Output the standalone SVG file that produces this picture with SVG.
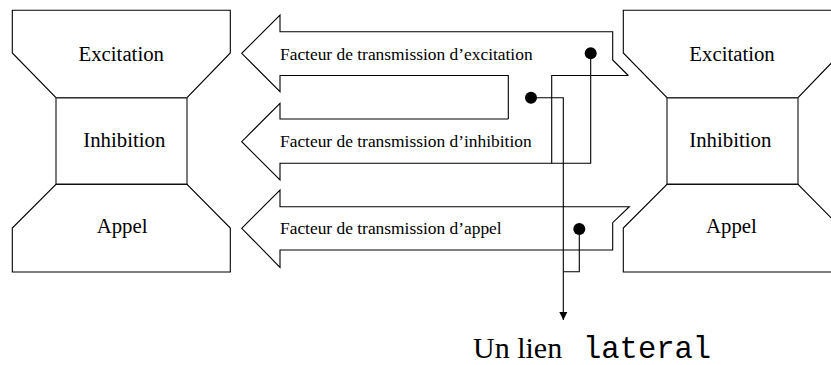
<svg xmlns="http://www.w3.org/2000/svg" width="831" height="365" viewBox="0 0 831 365">
<style>
.o{fill:none;stroke:#000;stroke-width:1.1;stroke-linejoin:miter}
.b{fill:none;stroke:#333;stroke-width:1.3}
.t{font-family:"Liberation Serif","Times New Roman",serif;fill:#000}
.big{font-size:20.8px}
.sm{font-size:17.4px}
.c{fill:none;stroke:#000;stroke-width:1.1}
.d{fill:#000}
</style>
<defs>
<marker id="ah" markerWidth="8" markerHeight="10" refX="8" refY="4" orient="auto" markerUnits="userSpaceOnUse" viewBox="0 0 8 8">
<path d="M0,0 L8,4 L0,8 Z" fill="#000"/>
</marker>
</defs>
<rect width="831" height="365" fill="#fff"/>

<g id="node-left">
<path class="o" d="M12.3,10.3 L230.3,10.3 L230.3,53 L187,97.7 L56,97.7 L12.3,53 Z"/>
<rect class="b" x="56" y="97.7" width="131" height="86.6"/>
<path class="o" d="M56,184.3 L187,184.3 L230.3,228 L230.3,272 L12.3,272 L12.3,228 Z"/>
<text class="t big" x="78.5" y="60.5">Excitation</text>
<text class="t big" x="83.3" y="147">Inhibition</text>
<text class="t big" x="96.7" y="233">Appel</text>
</g>

<g id="node-right">
<path class="o" d="M841,10.3 L623.3,10.3 L623.3,53 L667,97.7 L798,97.7 L841,53"/>
<rect class="b" x="667" y="97.7" width="131" height="86.6"/>
<path class="o" d="M841,228 L798,184.3 L667,184.3 L623.3,228 L623.3,272 L841,272"/>
<text class="t big" x="689.3" y="60.5">Excitation</text>
<text class="t big" x="689.3" y="147">Inhibition</text>
<text class="t big" x="706" y="233">Appel</text>
</g>

<g id="arrow-excitation">
<path class="o" d="M628.3,75.5 L612.7,60 L612.7,31.7 L280,31.7 L280,15 L241.7,53.3 L280,91.7 L280,75.5 L508.3,75.5 L508.3,119"/>
<text class="t sm" x="280" y="59.5">Facteur de transmission d’excitation</text>
</g>

<g id="arrow-inhibition">
<path class="o" d="M508.3,119 L280,119 L280,103.3 L241.7,141.7 L280,180 L280,163.3 L551.7,163.3 L551.7,75.5 L628.3,75.5"/>
<text class="t sm" x="280" y="147">Facteur de transmission d’inhibition</text>
</g>

<g id="arrow-appel">
<path class="o" d="M241.7,228.3 L280,190 L280,206.7 L629.3,206.7 L612.7,222.7 L612.7,250 L280,250 L280,267.3 Z"/>
<text class="t sm" x="280" y="234">Facteur de transmission d’appel</text>
</g>

<g id="label-lateral">
<text class="t" font-size="30px" x="473" y="357.5">Un lien <tspan x="583" font-family="'Liberation Mono','Courier New',monospace" font-size="30.5px">lateral</tspan></text>
</g>

<g id="connectors">
<circle class="d" cx="590.7" cy="53.3" r="6"/>
<circle class="d" cx="531" cy="97.7" r="6"/>
<circle class="d" cx="579.3" cy="229" r="6"/>
<path class="c" d="M590.7,53.3 L590.7,163.3 L551.7,163.3"/>
<path class="c" d="M579.3,229 L579.3,271.7 L563.3,271.7"/>
<path class="c" d="M531,97.7 L563.3,97.7 L563.3,320" marker-end="url(#ah)"/>
</g>
</svg>
